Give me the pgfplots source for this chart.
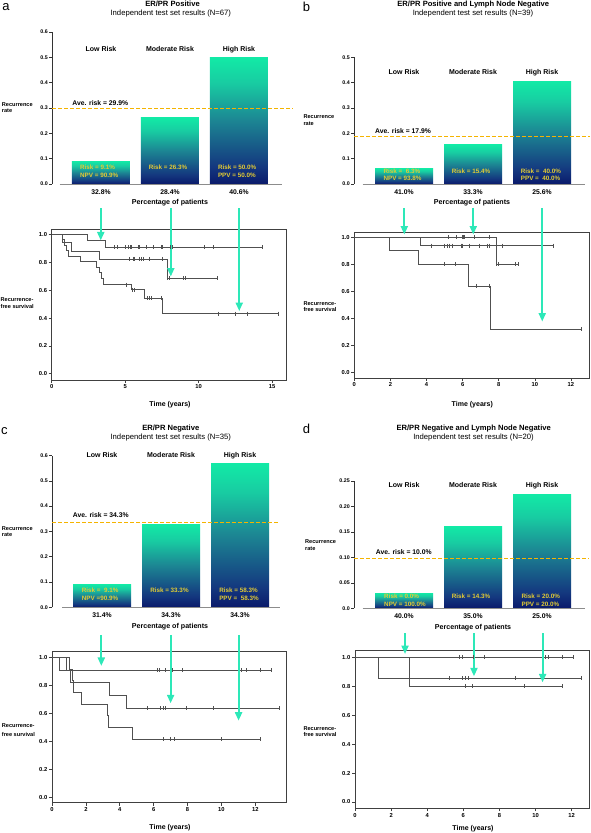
\documentclass[border=0pt]{standalone}
\usepackage{pgfplots}
\pgfplotsset{compat=1.18}
\usepackage{fontspec}
\setmainfont{Liberation Sans}
\usetikzlibrary{arrows.meta}
\newcommand\fs[1]{\fontsize{#1}{#1}\selectfont}
\definecolor{barA}{HTML}{0A1A6B}
\definecolor{barB}{HTML}{14387F}
\definecolor{barC}{HTML}{1C8593}
\definecolor{barD}{HTML}{18CCA2}
\definecolor{barE}{HTML}{12EAA6}
\definecolor{gold}{HTML}{E2CB34}
\definecolor{avecol}{HTML}{F5B400}
\definecolor{arrowcol}{HTML}{2DE8B8}
\definecolor{kmcol}{HTML}{505050}
\pgfdeclareverticalshading{barshade}{100bp}{color(0bp)=(barA); color(25bp)=(barA); color(32bp)=(barB); color(50bp)=(barC); color(65bp)=(barD); color(75bp)=(barE); color(100bp)=(barE)}
\pgfplotsset{
 barax/.style={scale only axis, anchor=south west, clip=false, axis x line=none, axis y line=left,
   axis line style={-,draw=black!80,line width=0.5pt}, tick align=outside, major tick length=3pt,
   ytick style={draw=black!80,line width=0.5pt}, yticklabel style={font=\bfseries\fs{5.3}, inner sep=1pt}, xtick=\empty},
 kmax/.style={scale only axis, anchor=south west, clip=false, axis line style={draw=black!75,line width=0.6pt},
   tick align=outside, tick pos=left, major tick length=3pt, tick style={draw=black!75,line width=0.6pt},
   ticklabel style={font=\bfseries\fs{5.8}, inner sep=1.5pt},
   ytick={0,0.2,0.4,0.6,0.8,1}, yticklabels={0.0,0.2,0.4,0.6,0.8,1.0}},
 mybar/.style={ybar, bar width=58pt, draw=none, shade, shading=barshade},
 aveln/.style={draw=avecol, line width=1.1pt, dash pattern=on 3.5pt off 2.5pt, mark=none},
 baseln/.style={black!45, line width=0.8pt, mark=none},
 kmln/.style={kmcol, line width=0.6pt, const plot, mark=none},
 cens/.style={kmcol, only marks, mark=|, mark size=2pt, mark options={line width=0.5pt}},
 arrln/.style={arrowcol, line width=2pt, -{Triangle[width=7pt,length=8.5pt]}, mark=none},
}
\tikzset{
 catt/.style={font=\bfseries\fs{7}, inner sep=0pt, anchor=base},
 bart/.style={font=\bfseries\fs{6.3}, text=gold, inner sep=0pt, anchor=base west},
 avet/.style={font=\bfseries\fs{6.8}, inner sep=0pt, anchor=base west},
 pctt/.style={font=\bfseries\fs{6.8}, inner sep=0pt, anchor=base},
 popt/.style={font=\bfseries\fs{7.1}, inner sep=0pt, anchor=base},
 ttlt/.style={font=\bfseries\fs{7.6}, inner sep=0pt, anchor=base},
 subt/.style={font=\fs{7.7}, inner sep=0pt, anchor=base},
 lett/.style={font=\fs{13}, inner sep=0pt, anchor=center},
 ylt/.style={font=\bfseries\fs{5.6}, inner sep=0pt, anchor=base west},
 timet/.style={font=\bfseries\fs{7}, inner sep=0pt, anchor=base},
}
\begin{document}
\begin{tikzpicture}
\path[use as bounding box] (0,0) rectangle (590pt,-833pt);
% ===================== Panel a bars
\begin{axis}[barax, at={(52pt,-184pt)}, width=240.8pt, height=152pt, xmin=-0.71, xmax=2.78, ymin=0, ymax=0.6,
  ytick={0,0.1,0.2,0.3,0.4,0.5,0.6}, yticklabels={0.0,0.1,0.2,0.3,0.4,0.5,0.6}]
\addplot[mybar] coordinates {(0,0.09)};
\addplot[mybar] coordinates {(1,0.262)};
\addplot[mybar] coordinates {(2,0.5)};
\addplot[baseln] coordinates {(-0.6,0) (2.62,0)};
\addplot[aveln] coordinates {(-0.71,0.2975) (2.78,0.2975)};
\node[catt] at (axis cs:0,0.525) {Low Risk};
\node[catt] at (axis cs:1,0.525) {Moderate Risk};
\node[catt] at (axis cs:2,0.525) {High Risk};
\node[avet] at (axis cs:-0.416,0.309) {Ave. risk = 29.9\%};
\node[bart] at (axis cs:-0.305,0.0553) {Risk = 9.1\%};
\node[bart] at (axis cs:-0.305,0.0276) {NPV = 90.9\%};
\node[bart] at (axis cs:0.69,0.0553) {Risk = 26.3\%};
\node[bart] at (axis cs:1.693,0.0553) {Risk = 50.0\%};
\node[bart] at (axis cs:1.693,0.0276) {PPV = 50.0\%};
\node[pctt] at (axis cs:0,-0.0407) {32.8\%};
\node[pctt] at (axis cs:1,-0.0407) {28.4\%};
\node[pctt] at (axis cs:2,-0.0407) {40.6\%};
\node[popt] at (axis cs:1,-0.079) {Percentage of patients};
\end{axis}
% ===================== Panel b bars
\begin{axis}[barax, at={(354pt,-184pt)}, width=236.3pt, height=126.7pt, xmin=-0.725, xmax=2.70, ymin=0, ymax=0.5,
  ytick={0,0.1,0.2,0.3,0.4,0.5}, yticklabels={0.0,0.1,0.2,0.3,0.4,0.5}]
\addplot[mybar] coordinates {(0,0.0625)};
\addplot[mybar] coordinates {(1,0.155)};
\addplot[mybar] coordinates {(2,0.405)};
\addplot[baseln] coordinates {(-0.6,0) (2.62,0)};
\addplot[aveln] coordinates {(-0.725,0.1875) (2.70,0.1875)};
\node[catt] at (axis cs:0,0.432) {Low Risk};
\node[catt] at (axis cs:1,0.432) {Moderate Risk};
\node[catt] at (axis cs:2,0.432) {High Risk};
\node[avet] at (axis cs:-0.42,0.200) {Ave. risk = 17.9\%};
\node[bart] at (axis cs:-0.30,0.0395) {Risk =~ 6.3\%};
\node[bart] at (axis cs:-0.30,0.013) {NPV = 93.8\%};
\node[bart] at (axis cs:0.691,0.0395) {Risk = 15.4\%};
\node[bart] at (axis cs:1.691,0.0395) {Risk =~ 40.0\%};
\node[bart] at (axis cs:1.691,0.013) {PPV =~ 40.0\%};
\node[pctt] at (axis cs:0,-0.041) {41.0\%};
\node[pctt] at (axis cs:1,-0.041) {33.3\%};
\node[pctt] at (axis cs:2,-0.041) {25.6\%};
\node[popt] at (axis cs:0.986,-0.079) {Percentage of patients};
\end{axis}
% ===================== Panel c bars
\begin{axis}[barax, at={(52pt,-607.3pt)}, width=226pt, height=151.8pt, xmin=-0.725, xmax=2.55, ymin=0, ymax=0.6,
  ytick={0,0.1,0.2,0.3,0.4,0.5,0.6}, yticklabels={0.0,0.1,0.2,0.3,0.4,0.5,0.6}]
\addplot[mybar] coordinates {(0,0.091)};
\addplot[mybar] coordinates {(1,0.329)};
\addplot[mybar] coordinates {(2,0.569)};
\addplot[baseln] coordinates {(-0.58,0) (2.58,0)};
\addplot[aveln] coordinates {(-0.725,0.336) (2.55,0.336)};
\node[catt] at (axis cs:0,0.594) {Low Risk};
\node[catt] at (axis cs:1,0.594) {Moderate Risk};
\node[catt] at (axis cs:2,0.594) {High Risk};
\node[avet] at (axis cs:-0.425,0.354) {Ave. risk = 34.3\%};
\node[bart] at (axis cs:-0.294,0.0577) {Risk =~ 9.1\%};
\node[bart] at (axis cs:-0.294,0.0277) {NPV =90.9\%};
\node[bart] at (axis cs:0.696,0.0577) {Risk = 33.3\%};
\node[bart] at (axis cs:1.696,0.0577) {Risk = 58.3\%};
\node[bart] at (axis cs:1.696,0.0277) {PPV =~ 58.3\%};
\node[pctt] at (axis cs:0,-0.0395) {31.4\%};
\node[pctt] at (axis cs:1,-0.0395) {34.3\%};
\node[pctt] at (axis cs:2,-0.0395) {34.3\%};
\node[popt] at (axis cs:0.986,-0.0818) {Percentage of patients};
\end{axis}
% ===================== Panel d bars
\begin{axis}[barax, at={(354pt,-608.3pt)}, width=234.3pt, height=127.3pt, xmin=-0.725, xmax=2.67, ymin=0, ymax=0.25,
  ytick={0,0.05,0.1,0.15,0.2,0.25}, yticklabels={0.0,0.05,0.10,0.15,0.20,0.25}]
\addplot[mybar] coordinates {(0,0.030)};
\addplot[mybar] coordinates {(1,0.161)};
\addplot[mybar] coordinates {(2,0.224)};
\addplot[baseln] coordinates {(-0.6,0) (2.62,0)};
\addplot[aveln] coordinates {(-0.725,0.0978) (2.67,0.0978)};
\node[catt] at (axis cs:0,0.237) {Low Risk};
\node[catt] at (axis cs:1,0.237) {Moderate Risk};
\node[catt] at (axis cs:2,0.237) {High Risk};
\node[avet] at (axis cs:-0.41,0.1047) {Ave. risk = 10.0\%};
\node[bart] at (axis cs:-0.29,0.0183) {Risk = 0.0\%};
\node[bart] at (axis cs:-0.29,0.0045) {NPV = 100.0\%};
\node[bart] at (axis cs:0.69,0.0183) {Risk = 14.3\%};
\node[bart] at (axis cs:1.70,0.0183) {Risk = 20.0\%};
\node[bart] at (axis cs:1.70,0.0045) {PPV = 20.0\%};
\node[pctt] at (axis cs:0,-0.0196) {40.0\%};
\node[pctt] at (axis cs:1,-0.0196) {35.0\%};
\node[pctt] at (axis cs:2,-0.0196) {25.0\%};
\node[popt] at (axis cs:1,-0.0407) {Percentage of patients};
\end{axis}
% ===================== Panel a KM
\begin{axis}[kmax, at={(51.7pt,-380pt)}, width=235pt, height=151.1pt, xmin=0, xmax=16, ymin=-0.045, ymax=1.04,
  xtick={0,5,10,15}, xticklabels={0,5,10,15}]
\addplot[kmln] coordinates {(0,1)(2.43,0.955)(3.63,0.909)(14.32,0.909)};
\addplot[cens] coordinates {(4.27,0.909)(4.43,0.909)(5.04,0.909)(5.18,0.909)(5.34,0.909)(5.45,0.909)(5.9,0.909)(5.97,0.909)(6.41,0.909)(6.93,0.909)(7.45,0.909)(7.56,0.909)(8.06,0.909)(8.18,0.909)(10.4,0.909)(11.02,0.909)(14.32,0.909)};
\addplot[kmln] coordinates {(0,1)(0.72,0.941)(1.36,0.882)(3.25,0.824)(7.84,0.686)(11.25,0.686)};
\addplot[cens] coordinates {(5.25,0.824)(5.55,0.824)(5.65,0.824)(5.98,0.824)(6.08,0.824)(6.2,0.824)(6.66,0.824)(7.5,0.824)(7.9,0.686)(8.0,0.686)(8.93,0.686)(9.09,0.686)(11.25,0.686)};
\addplot[kmln] coordinates {(0,1)(0.72,0.962)(0.84,0.923)(0.98,0.885)(1.13,0.846)(1.98,0.805)(3.07,0.765)(3.25,0.725)(3.41,0.685)(3.52,0.640)(5.45,0.603)(6.31,0.543)(7.5,0.431)(15.4,0.431)};
\addplot[cens] coordinates {(5.06,0.64)(5.5,0.603)(5.6,0.603)(6.48,0.543)(6.63,0.543)(6.75,0.543)(7.45,0.543)(11.36,0.431)(12.5,0.431)(13.3,0.431)(15.4,0.431)};
\addplot[arrln] coordinates {(3.34,1.187)(3.34,0.957)};
\addplot[arrln] coordinates {(8.11,1.187)(8.11,0.698)};
\addplot[arrln] coordinates {(12.77,1.187)(12.77,0.45)};
\end{axis}
% ===================== Panel b KM
\begin{axis}[kmax, at={(354.3pt,-378pt)}, width=234.7pt, height=146.2pt, xmin=0, xmax=13, ymin=-0.04, ymax=1.04,
  xtick={0,2,4,6,8,10,12}, xticklabels={0,2,4,6,8,10,12}]
\addplot[kmln] coordinates {(0,1)(7.85,0.8)(9.1,0.8)};
\addplot[cens] coordinates {(5.23,1)(5.65,1)(5.96,1)(6.04,1)(6.11,1)(6.67,1)(7.5,1)(7.87,0.8)(7.96,0.8)(8.92,0.8)(9.1,0.8)};
\addplot[kmln] coordinates {(0,1)(3.66,0.9375)(11.0,0.9375)};
\addplot[cens] coordinates {(4.26,0.9375)(5.0,0.9375)(5.13,0.9375)(5.28,0.9375)(5.45,0.9375)(5.91,0.9375)(5.96,0.9375)(6.37,0.9375)(6.94,0.9375)(7.39,0.9375)(7.5,0.9375)(8.22,0.9375)(11.0,0.9375)};
\addplot[kmln] coordinates {(0,1)(1.94,0.9)(3.56,0.8)(6.3,0.64)(7.53,0.32)(12.55,0.32)};
\addplot[cens] coordinates {(5.0,0.8)(5.6,0.8)(6.76,0.64)(7.5,0.64)(12.55,0.32)};
\addplot[arrln] coordinates {(2.77,1.216)(2.77,1.02)};
\addplot[arrln] coordinates {(6.59,1.216)(6.59,1.02)};
\addplot[arrln] coordinates {(10.41,1.216)(10.41,0.377)};
\end{axis}
% ===================== Panel c KM
\begin{axis}[kmax, at={(52pt,-802.7pt)}, width=234.7pt, height=151.1pt, xmin=0, xmax=13.85, ymin=-0.036, ymax=1.04,
  xtick={0,2,4,6,8,10,12}, xticklabels={0,2,4,6,8,10,12}]
\addplot[kmln] coordinates {(0,1)(0.45,0.909)(12.96,0.909)};
\addplot[cens] coordinates {(6.2,0.909)(6.3,0.909)(6.66,0.909)(7.11,0.909)(7.7,0.909)(11.15,0.909)(11.49,0.909)(12.31,0.909)(12.96,0.909)};
\addplot[kmln] coordinates {(0,1)(0.85,0.909)(1.08,0.818)(3.37,0.727)(4.4,0.636)(13.4,0.636)};
\addplot[cens] coordinates {(5.61,0.636)(6.4,0.636)(6.56,0.636)(6.7,0.636)(7.94,0.636)(9.51,0.636)(13.4,0.636)};
\addplot[kmln] coordinates {(0,1)(1.05,0.917)(1.2,0.833)(1.28,0.75)(1.74,0.667)(3.25,0.583)(3.3,0.5)(4.73,0.417)(12.31,0.417)};
\addplot[cens] coordinates {(6.56,0.417)(6.96,0.417)(7.19,0.417)(9.97,0.417)(12.31,0.417)};
\addplot[arrln] coordinates {(2.91,1.159)(2.91,0.938)};
\addplot[arrln] coordinates {(7.0,1.159)(7.0,0.672)};
\addplot[arrln] coordinates {(11.01,1.159)(11.01,0.548)};
\end{axis}
% ===================== Panel d KM
\begin{axis}[kmax, at={(355pt,-808.3pt)}, width=234pt, height=157.6pt, xmin=0, xmax=12.96, ymin=-0.044, ymax=1.046,
  xtick={0,2,4,6,8,10,12}, xticklabels={0,2,4,6,8,10,12}]
\addplot[kmln] coordinates {(0,1)(12.1,1)};
\addplot[cens] coordinates {(5.76,1)(5.94,1)(6.57,1)(7.18,1)(10.56,1)(10.69,1)(11.48,1)(12.1,1)};
\addplot[kmln] coordinates {(0,1)(1.27,0.857)(12.53,0.857)};
\addplot[cens] coordinates {(5.24,0.857)(5.94,0.857)(6.11,0.857)(6.26,0.857)(8.9,0.857)(12.53,0.857)};
\addplot[kmln] coordinates {(0,1)(3.03,0.8)(11.48,0.8)};
\addplot[cens] coordinates {(6.11,0.8)(6.5,0.8)(9.36,0.8)(11.48,0.8)};
\addplot[arrln] coordinates {(2.77,1.166)(2.77,1.023)};
\addplot[arrln] coordinates {(6.59,1.166)(6.59,0.869)};
\addplot[arrln] coordinates {(10.39,1.166)(10.39,0.827)};
\end{axis}
% ===================== absolute texts
\node[lett] at (6pt,-6.7pt) {a};
\node[lett] at (306.5pt,-6.7pt) {b};
\node[lett] at (4.5pt,-431pt) {c};
\node[lett] at (306.5pt,-429pt) {d};
\node[ttlt] at (172.5pt,-6.3pt) {ER/PR Positive};
\node[subt] at (170.8pt,-15.8pt) {Independent test set results (N=67)};
\node[ttlt] at (473.3pt,-6.3pt) {ER/PR Positive and Lymph Node Negative};
\node[subt] at (473pt,-15.8pt) {Independent test set results (N=39)};
\node[ttlt] at (170.8pt,-430pt) {ER/PR Negative};
\node[subt] at (170.8pt,-439pt) {Independent test set results (N=35)};
\node[ttlt] at (473.7pt,-430pt) {ER/PR Negative and Lymph Node Negative};
\node[subt] at (473.5pt,-439pt) {Independent test set results (N=20)};
% y labels bar charts
\node[ylt] at (1.7pt,-106pt) {Recurrence};
\node[ylt] at (1.7pt,-112.7pt) {rate};
\node[ylt] at (303.3pt,-118.3pt) {Recurrence};
\node[ylt] at (303.3pt,-125pt) {rate};
\node[ylt] at (1.7pt,-530pt) {Recurrence};
\node[ylt] at (1.7pt,-536.7pt) {rate};
\node[ylt] at (305pt,-543.3pt) {Recurrence};
\node[ylt] at (305pt,-550pt) {rate};
% y labels KM
\node[ylt] at (0.5pt,-301pt) {Recurrence-};
\node[ylt] at (0.5pt,-308.3pt) {free survival};
\node[ylt] at (303.3pt,-305pt) {Recurrence-};
\node[ylt] at (303.3pt,-311.7pt) {free survival};
\node[ylt] at (1.7pt,-727.3pt) {Recurrence-};
\node[ylt] at (1.7pt,-736pt) {free survival};
\node[ylt] at (303.3pt,-730pt) {Recurrence-};
\node[ylt] at (303.3pt,-736.7pt) {free survival};
% time labels
\node[timet] at (170pt,-406pt) {Time (years)};
\node[timet] at (472.3pt,-406pt) {Time (years)};
\node[timet] at (170pt,-829pt) {Time (years)};
\node[timet] at (473pt,-830.7pt) {Time (years)};
\end{tikzpicture}
\end{document}
